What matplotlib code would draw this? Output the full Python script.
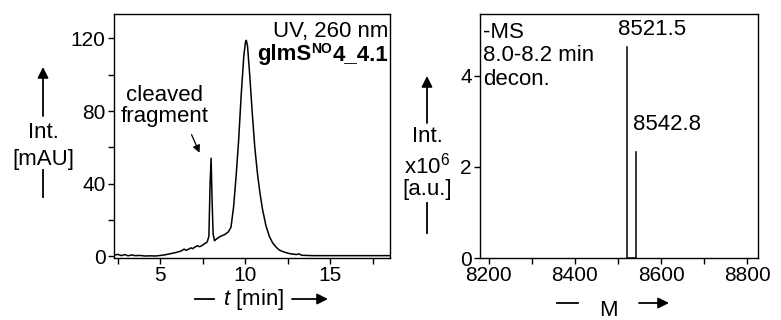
import matplotlib.pyplot as plt
from matplotlib.patches import FancyArrowPatch
from matplotlib.ticker import MultipleLocator

plt.rcParams['font.family'] = ['Liberation Sans', 'DejaVu Sans']
plt.rcParams['mathtext.fontset'] = 'custom'
plt.rcParams['mathtext.rm'] = 'Liberation Sans'
plt.rcParams['mathtext.it'] = 'Liberation Sans:italic'
plt.rcParams['mathtext.bf'] = 'Liberation Sans:bold'

# chromatogram (UV 260 nm)
t_min = [2.3, 2.5, 2.7, 2.9, 3.1, 3.3, 3.5, 3.8, 4.1, 4.4, 4.7, 5.0, 5.3, 5.6, 5.9, 6.2,
         6.4, 6.5, 6.6, 6.8, 6.9, 7.0, 7.2, 7.3, 7.4, 7.6, 7.75, 7.85, 7.92, 7.98, 8.04,
         8.1, 8.18, 8.3, 8.45, 8.6, 8.8, 9.0, 9.15, 9.3, 9.45, 9.6, 9.75, 9.9, 10.0,
         10.05, 10.12, 10.25, 10.4, 10.55, 10.7, 10.85, 11.0, 11.2, 11.4, 11.6, 11.8,
         12.0, 12.3, 12.6, 13.0, 13.15, 13.3, 14.0, 15.0, 16.0, 17.0, 18.5]
uv_mau = [0.6, 1.0, 0.3, 0.9, 0.2, 0.7, 0.3, 0.4, 0.1, 0.2, 0.1, 0.4, 0.8, 1.4, 2.0, 2.8,
          3.9, 3.2, 3.6, 4.6, 4.1, 4.9, 5.8, 5.2, 5.6, 6.9, 7.8, 11, 40, 54, 30,
          12, 8.5, 9.5, 10.5, 11.2, 12.0, 13.5, 16, 27, 44, 64, 89, 110, 118,
          119, 116, 100, 79, 60, 46, 35, 26, 17, 11, 7.3, 5.0,
          3.3, 2.2, 1.4, 0.9, 1.3, 0.5, 0.3, 0.3, 0.3, 0.3, 0.3]

# deconvoluted MS
ms_mass = [8521.5, 8542.8]
ms_int = [4.64, 2.33]
ms_labels = ['8521.5', '8542.8']

W, H = 781, 320
fig = plt.figure(figsize=(W / 100, H / 100), dpi=100)
FS = 16
TFS = 15


def fx(px):
    return px / W


def fy(py):
    return 1 - py / H


ax1 = fig.add_axes([fx(114), fy(258), fx(390) - fx(114), fy(14) - fy(258)])
ax2 = fig.add_axes([fx(480), fy(258), fx(758) - fx(480), fy(14) - fy(258)])

ax1.plot(t_min, uv_mau, color='black', lw=1.1)
ax1.set_xlim(2.27, 18.5)
ax1.set_ylim(-1, 133.5)
ax1.set_xticks([5, 10, 15])
ax1.xaxis.set_minor_locator(MultipleLocator(2.5))
ax1.set_yticks([0, 40, 80, 120])
ax1.yaxis.set_minor_locator(MultipleLocator(20))

# stick spectrum with baseline between the sticks
xs = [ms_mass[0], ms_mass[0], ms_mass[1], ms_mass[1]]
ys = [ms_int[0], 0, 0, ms_int[1]]
ax2.plot(xs, ys, color='black', lw=1.1)
ax2.set_xlim(8180, 8825)
ax2.set_ylim(0, 5.36)
ax2.set_xticks([8200, 8400, 8600, 8800])
ax2.xaxis.set_minor_locator(MultipleLocator(100))
ax2.set_yticks([0, 2, 4])
ax2.set_yticklabels(['0', '2', '4'])
label_shift = [(-21, 0.15), (-8, 0.37)]
for m, v, lab, (dx, dy) in zip(ms_mass, ms_int, ms_labels, label_shift):
    ax2.text(m + dx, v + dy, lab, ha='left', va='bottom', fontsize=FS)

for ax in (ax1, ax2):
    ax.tick_params(which='both', direction='out', length=4, width=1, labelsize=TFS, pad=2)
    for s in ax.spines.values():
        s.set_linewidth(1)

fig.text(fx(388), fy(37), 'UV, 260 nm', ha='right', va='baseline', fontsize=FS)

# sample name, built right to left so the superscript can be small
fig.canvas.draw()
rend = fig.canvas.get_renderer()
base_y = fy(60)
tail = fig.text(fx(388), base_y, '4_4.1', ha='right', va='baseline', fontsize=FS,
                fontweight='bold')
x_left = tail.get_window_extent(rend).x0 / fig.bbox.width
sup = fig.text(x_left, base_y + 7 / H, 'NO', ha='right', va='baseline', fontsize=10,
               fontweight='bold')
x_left = sup.get_window_extent(rend).x0 / fig.bbox.width
fig.text(x_left, base_y, 'glmS', ha='right', va='baseline', fontsize=FS, fontweight='bold')

ax1.text(5.25, 83, 'cleaved\nfragment', ha='center', va='center', fontsize=FS, linespacing=1.0)
ax1.annotate('', xy=(7.3, 57), xytext=(6.83, 67),
             arrowprops=dict(arrowstyle='-|>', color='black', lw=0.9, mutation_scale=11,
                             shrinkA=0, shrinkB=0))

fig.text(fx(483), fy(22), '-MS\n8.0-8.2 min\ndecon.', ha='left', va='top',
         fontsize=FS, linespacing=1.15)


# axis labels with arrows, in figure pixels
def arrow(x0, y0, x1, y1):
    fig.add_artist(FancyArrowPatch(
        (fx(x0), fy(y0)), (fx(x1), fy(y1)), transform=fig.transFigure,
        arrowstyle='-|>', mutation_scale=16, color='black', lw=1.3, shrinkA=0, shrinkB=0))


def line(x0, y0, x1, y1):
    fig.add_artist(plt.Line2D([fx(x0), fx(x1)], [fy(y0), fy(y1)],
                              transform=fig.transFigure, color='black', lw=1.3))


# left y label
arrow(43, 116, 43, 67)
fig.text(fx(43), fy(133), 'Int.', ha='center', va='center', fontsize=FS)
fig.text(fx(43), fy(160), '[mAU]', ha='center', va='center', fontsize=FS)
line(43, 170, 43, 197)

# right y label
arrow(427, 123, 427, 76)
fig.text(fx(427), fy(136), 'Int.', ha='center', va='center', fontsize=FS)
fig.text(fx(427), fy(166), r'x10$^6$', ha='center', va='center', fontsize=FS)
fig.text(fx(427), fy(190), '[a.u.]', ha='center', va='center', fontsize=FS)
line(427, 203, 427, 233)

# left x label
line(195, 299, 214, 299)
fig.text(fx(254), fy(299), r'$t$ [min]', ha='center', va='center', fontsize=FS)
arrow(292, 299, 328, 299)

# right x label
line(557, 303, 578, 303)
fig.text(fx(608), fy(311), 'M', ha='center', va='center', fontsize=FS)
arrow(639, 303, 669, 303)

fig.savefig('out.png', dpi=100)
